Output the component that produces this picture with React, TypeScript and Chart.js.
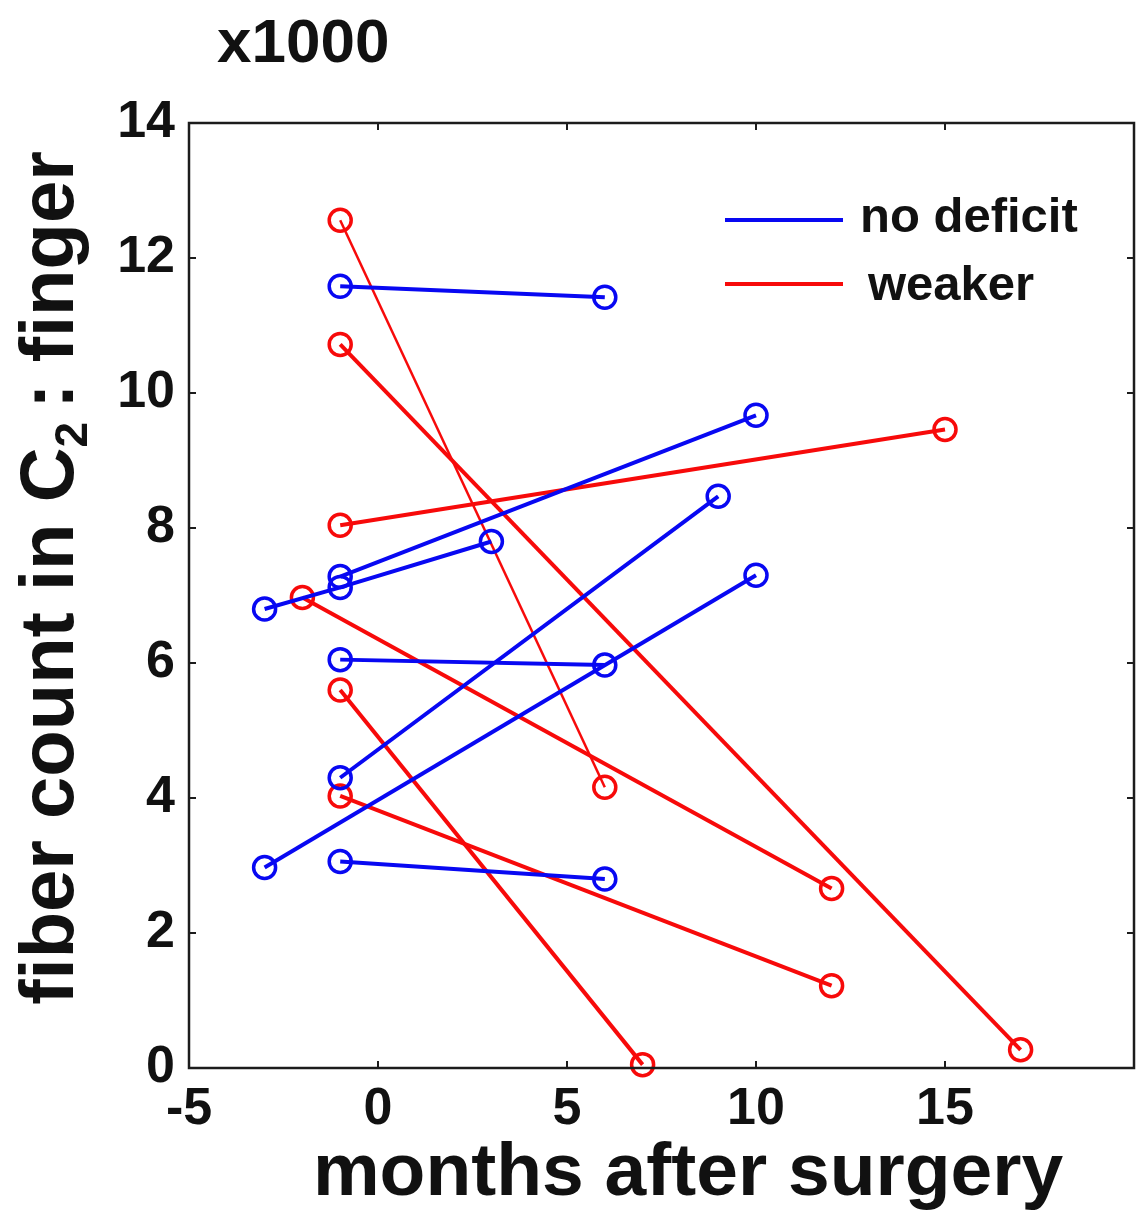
import React, { useEffect, useRef } from 'react';
import { Chart, registerables } from 'chart.js';

Chart.register(...registerables);

// ---- data (months after surgery, fiber count x1000) ----
const xTickValues = [-5, 0, 5, 10, 15, 20];
const yTickValues = [0, 2, 4, 6, 8, 10, 12, 14];

const noDeficitMonths: number[][] = [
  [-1, 6],
  [-1, 10],
  [-3, -1, 3],
  [-1, 6],
  [-1, 9],
  [-3, 10],
  [-1, 6],
];
const noDeficitCounts: number[][] = [
  [11.58, 11.42],
  [7.28, 9.67],
  [6.8, 7.12, 7.8],
  [6.05, 5.97],
  [4.3, 8.47],
  [2.97, 7.3],
  [3.06, 2.8],
];

const weakerMonths: number[][] = [
  [-1, 6],
  [-1, 17],
  [-1, 15],
  [-2, 12],
  [-1, 7],
  [-1, 12],
];
const weakerCounts: number[][] = [
  [12.56, 4.16],
  [10.72, 0.27],
  [8.04, 9.46],
  [6.97, 2.66],
  [5.6, 0.05],
  [4.03, 1.22],
];
const weakerThin = [true, false, false, false, false, false];

const legendLabels = ['no deficit', 'weaker'];

const BLUE = '#0808f2';
const RED = '#f70a0a';
const FONT = "'Liberation Sans', Arial, sans-serif";

function makeDatasets() {
  const ds: any[] = [];
  noDeficitMonths.forEach((ms, i) => {
    ds.push({
      label: legendLabels[0],
      data: ms.map((m, j) => ({ x: m, y: noDeficitCounts[i][j] })),
      borderColor: BLUE,
      borderWidth: 4,
      pointRadius: 11,
      pointBorderWidth: 3.5,
      pointBorderColor: BLUE,
      pointBackgroundColor: 'rgba(0,0,0,0)',
      showLine: true,
      clip: false,
    });
  });
  weakerMonths.forEach((ms, i) => {
    ds.push({
      label: legendLabels[1],
      data: ms.map((m, j) => ({ x: m, y: weakerCounts[i][j] })),
      borderColor: RED,
      borderWidth: weakerThin[i] ? 2.5 : 4,
      pointRadius: 11,
      pointBorderWidth: 3.5,
      pointBorderColor: RED,
      pointBackgroundColor: 'rgba(0,0,0,0)',
      showLine: true,
      clip: false,
    });
  });
  return ds;
}

const framePlugin = {
  id: 'framePlugin',
  afterDatasetsDraw(chart: any) {
    const { ctx, chartArea: a, scales } = chart;
    ctx.save();
    // box
    ctx.strokeStyle = '#1c1c1c';
    ctx.lineWidth = 2.5;
    ctx.strokeRect(a.left, a.top, a.right - a.left, a.bottom - a.top);
    // inward ticks on all sides
    const tl = 7;
    ctx.lineWidth = 2;
    ctx.beginPath();
    xTickValues.forEach((v) => {
      const px = scales.x.getPixelForValue(v);
      ctx.moveTo(px, a.bottom);
      ctx.lineTo(px, a.bottom - tl);
      ctx.moveTo(px, a.top);
      ctx.lineTo(px, a.top + tl);
    });
    yTickValues.forEach((v) => {
      const py = scales.y.getPixelForValue(v);
      ctx.moveTo(a.left, py);
      ctx.lineTo(a.left + tl, py);
      ctx.moveTo(a.right, py);
      ctx.lineTo(a.right - tl, py);
    });
    ctx.stroke();

    // legend
    ctx.lineWidth = 4;
    ctx.strokeStyle = BLUE;
    ctx.beginPath();
    ctx.moveTo(725, 220);
    ctx.lineTo(843, 220);
    ctx.stroke();
    ctx.strokeStyle = RED;
    ctx.beginPath();
    ctx.moveTo(725, 284);
    ctx.lineTo(843, 284);
    ctx.stroke();
    ctx.fillStyle = '#111';
    ctx.textAlign = 'left';
    ctx.textBaseline = 'alphabetic';
    ctx.font = `bold 49px ${FONT}`;
    ctx.fillText(legendLabels[0], 860, 232);
    ctx.fillText(legendLabels[1], 868, 300);

    // multiplier
    ctx.font = `bold 62px ${FONT}`;
    ctx.fillText('x1000', 217, 62);

    // x title
    ctx.font = `bold 75px ${FONT}`;
    ctx.textAlign = 'center';
    ctx.fillText('months after surgery', 688, 1195);

    // y title (rotated, with subscript)
    ctx.translate(73, 578);
    ctx.rotate(-Math.PI / 2);
    ctx.textAlign = 'left';
    const mainFont = `bold 76px ${FONT}`;
    const subFont = `bold 46px ${FONT}`;
    const p1 = 'fiber count in C';
    const p2 = '2';
    const p3 = ' : finger';
    ctx.font = mainFont;
    const w1 = ctx.measureText(p1).width;
    const w3 = ctx.measureText(p3).width;
    ctx.font = subFont;
    const w2 = ctx.measureText(p2).width;
    const total = w1 + w2 + w3 - 8;
    let x0 = -total / 2;
    ctx.font = mainFont;
    ctx.fillText(p1, x0, 0);
    x0 += w1;
    ctx.font = subFont;
    ctx.fillText(p2, x0, 14);
    x0 += w2;
    ctx.font = mainFont;
    ctx.fillText(p3, x0 - 8, 0);
    ctx.restore();
  },
};

export default function App() {
  const canvasRef = useRef<HTMLCanvasElement | null>(null);

  useEffect(() => {
    document.body.style.margin = '0';
    const canvas = canvasRef.current;
    if (!canvas) return;
    const chart = new Chart(canvas, {
      type: 'scatter',
      data: { datasets: makeDatasets() },
      options: {
        responsive: false,
        animation: false,
        devicePixelRatio: 1,
        layout: { autoPadding: false, padding: { left: 0, top: 123, right: 5, bottom: 0 } },
        plugins: {
          legend: { display: false },
          tooltip: { enabled: false },
          title: { display: false },
        },
        scales: {
          x: {
            type: 'linear',
            min: -5,
            max: 20,
            grid: { display: false, drawTicks: false },
            border: { display: false },
            afterFit: (s: any) => {
              s.height = 152;
              s.paddingLeft = 0;
              s.paddingRight = 0;
            },
            afterBuildTicks: (s: any) => {
              s.ticks = xTickValues.map((v) => ({ value: v }));
            },
            ticks: {
              padding: 10,
              color: '#111',
              font: { family: FONT, size: 52, weight: 'bold' },
              maxRotation: 0,
              autoSkip: false,
              callback: (v: any) => (v === 20 ? '' : String(v)),
            },
          },
          y: {
            type: 'linear',
            min: 0,
            max: 14,
            grid: { display: false, drawTicks: false },
            border: { display: false },
            afterFit: (s: any) => {
              s.width = 189;
              s.paddingTop = 0;
              s.paddingBottom = 0;
            },
            afterBuildTicks: (s: any) => {
              s.ticks = yTickValues.map((v) => ({ value: v }));
            },
            ticks: {
              padding: 14,
              color: '#111',
              font: { family: FONT, size: 52, weight: 'bold' },
              autoSkip: false,
              callback: (v: any) => String(v),
            },
          },
        },
      },
      plugins: [framePlugin],
    } as any);
    return () => chart.destroy();
  }, []);

  return (
    <div style={{ position: 'absolute', left: 0, top: 0, width: 1139, height: 1220, background: '#fff' }}>
      <canvas ref={canvasRef} width={1139} height={1220} style={{ width: 1139, height: 1220, display: 'block' }} />
    </div>
  );
}
